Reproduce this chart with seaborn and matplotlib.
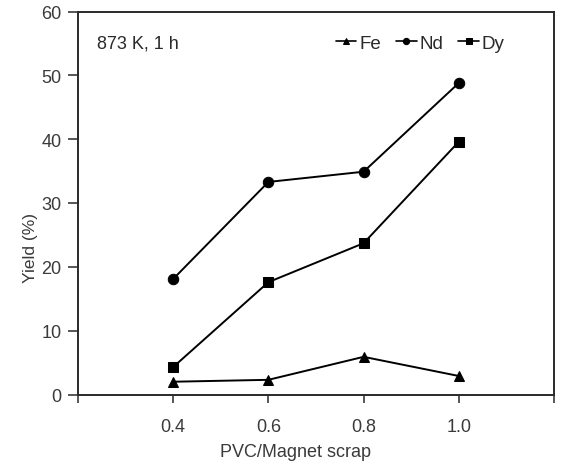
import matplotlib
matplotlib.use("Agg")
import matplotlib.pyplot as plt
import seaborn as sns
import pandas as pd

ratio = [0.4, 0.6, 0.8, 1.0]
fe = [2.0, 2.3, 5.9, 2.9]
nd = [18.1, 33.3, 34.9, 48.8]
dy = [4.3, 17.6, 23.7, 39.6]
series = ["Fe", "Nd", "Dy"]
xticks = [0.4, 0.6, 0.8, 1.0]
xticklabels = ["0.4", "0.6", "0.8", "1.0"]
yticks = [0, 10, 20, 30, 40, 50, 60]

df = pd.DataFrame({
    "x": ratio * 3,
    "y": fe + nd + dy,
    "el": ["Fe"] * 4 + ["Nd"] * 4 + ["Dy"] * 4,
})

sns.set_style("ticks")
plt.rcParams["font.family"] = ["Liberation Sans", "DejaVu Sans"]

W, H = 562, 464
fig = plt.figure(figsize=(W / 100, H / 100), dpi=100)
L, R, T, B = 78, 554, 12.5, 395.5
ax = fig.add_axes([L / W, 1 - B / H, (R - L) / W, (B - T) / H])

sns.lineplot(data=df, x="x", y="y", hue="el", style="el", hue_order=series,
             style_order=series, palette=["black"] * 3,
             markers={"Fe": "^", "Nd": "o", "Dy": "s"}, dashes=False,
             markersize=7.5, linewidth=1.4, markeredgecolor="black", ax=ax)

ax.set_xlim(0.2, 1.2)
ax.set_ylim(0, 60)
ax.set_xticks([0.2] + xticks + [1.2])
ax.set_xticklabels([""] + xticklabels + [""])
ax.set_yticks(yticks)
ax.tick_params(direction="out", width=1.2, labelsize=13, colors="#3a3a3a")
ax.tick_params(axis="x", length=6, pad=11)
ax.tick_params(axis="y", length=7, pad=5)
for s in ax.spines.values():
    s.set_visible(True)
    s.set_linewidth(1.4)
    s.set_color("#2a2a2a")
ax.set_xlabel("PVC/Magnet scrap", fontsize=13, color="#3a3a3a")
ax.set_ylabel("Yield (%)", fontsize=12.5, color="#3a3a3a")
ax.xaxis.set_label_coords((295 - L) / (R - L), -(453 - B) / (B - T), transform=ax.transAxes)
ax.yaxis.set_label_coords((30 - L) / (R - L), 1 - (248 - T) / (B - T), transform=ax.transAxes)
ax.xaxis.label.set_va("center")
ax.yaxis.label.set_va("center")

ax.text((97 - L) / (R - L), 1 - (44 - T) / (B - T), "873 K, 1 h", transform=ax.transAxes,
        fontsize=13, color="#2a2a2a", va="center", ha="left")

handles, labels = ax.get_legend_handles_labels()
for h in handles:
    h.set_markersize(4.5)
    h.set_linewidth(1.2)
ax.legend(handles, labels, loc="center right", ncol=3, frameon=False, fontsize=13.5,
          handlelength=1.1, handletextpad=0.15, columnspacing=0.8,
          bbox_to_anchor=((512 - L) / (R - L), 1 - (44 - T) / (B - T)), borderaxespad=0.0,
          labelcolor="#2a2a2a")

fig.savefig("out.png", dpi=100)
